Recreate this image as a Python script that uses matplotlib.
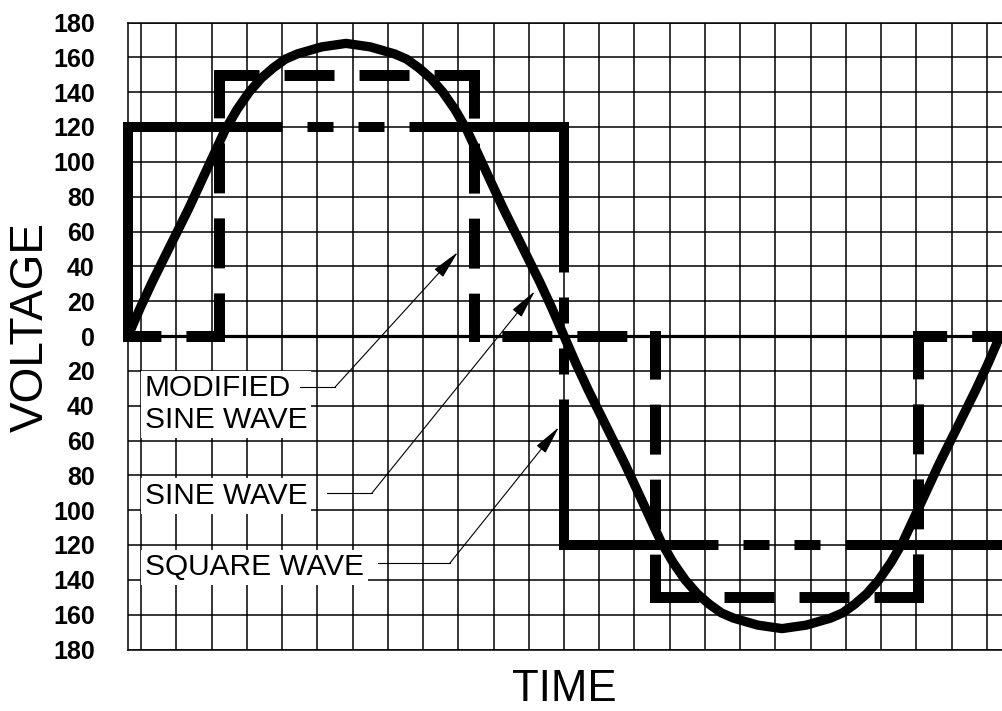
import numpy as np
import matplotlib
matplotlib.use("Agg")
import matplotlib.pyplot as plt

plt.rcParams['font.family'] = ['Liberation Sans', 'DejaVu Sans']
plt.rcParams['lines.scale_dashes'] = False

# time is degrees of one cycle, voltage in volts
sine_t = list(range(0, 361, 5))
sine_v = [0, 16, 31, 45, 59, 73, 88, 103, 118, 130, 140, 148, 154, 159, 162, 164, 166, 167,
          168, 167, 166, 164, 162, 159, 154, 148, 140, 130, 118, 103, 88, 73, 59, 45, 31, 16,
          0, -16, -31, -45, -59, -73, -88, -103, -118, -130, -140, -148, -154, -159, -162,
          -164, -166, -167, -168, -167, -166, -164, -162, -159, -154, -148, -140, -130, -118,
          -103, -88, -73, -59, -45, -31, -16, 0]

square_t = [0, 0, 180, 180, 360]
square_v = [0, 120, 120, -120, -120]

mod_t = [0, 37.5, 37.5, 142.8, 142.8, 217.4, 217.4, 326, 326, 360]
mod_v = [0, 0, 150, 150, 0, 0, -150, -150, 0, 0]

volt_ticks = list(range(-180, 181, 20))
volt_labels = [str(abs(v)) for v in volt_ticks]

# callouts: text, text pos (last line baseline), leader start/end x, leader y, arrow tip
callouts = [
    ("MODIFIED\nSINE WAVE", (7.0, -52.8), (71.0, 85.5), -29.3, (136.2, 48.2)),
    ("SINE WAVE", (7.0, -96.5), (82.2, 100.7), -90.2, (168.0, 25.8)),
    ("SQUARE WAVE", (7.0, -137.3), (103.2, 132.9), -130.4, (177.9, -52.3)),
]

fig = plt.figure(figsize=(10.02, 7.11), dpi=100)
ax = fig.add_axes([128 / 1002, (711 - 649.5) / 711, 874 / 1002, 627 / 711])
ax.set_xlim(0, 360 * 874 / 872)
ax.set_ylim(-180, 180)

# grid paper
step = 14.55
ax.set_xticks(180 + step * np.arange(-12, 13))
ax.set_yticks(volt_ticks)
ax.set_yticklabels(volt_labels, fontsize=18, fontweight='bold')
ax.tick_params(axis='x', length=0, labelbottom=False)
ax.tick_params(axis='y', length=0, pad=24)
ax.grid(True, color='black', lw=1.1)
ax.set_axisbelow(True)
ax.axhline(0, color='black', lw=2.3, zorder=1)
for s in ['left', 'top', 'bottom']:
    ax.spines[s].set_linewidth(1.1)
ax.spines['right'].set_visible(False)


def draw_centered(t, v, pattern, phase, lw, solid_below):
    # every segment gets its own dash pattern, centred like a CAD linetype
    period = sum(pattern)
    pts = ax.transData.transform(np.column_stack([t, v]))
    for i in range(len(t) - 1):
        seg = np.hypot(*(pts[i + 1] - pts[i]))
        if seg < 1e-6:
            continue
        if seg < solid_below:
            ls = '-'
        else:
            off = (phase - seg / 2) % period
            ls = (off * 0.72, [p * 0.72 for p in pattern])
        ax.plot(t[i:i + 2], v[i:i + 2], color='black', lw=lw, linestyle=ls,
                dash_capstyle='projecting', solid_capstyle='projecting',
                clip_on=False, zorder=4)


draw_centered(square_t, square_v, [292, 35, 16, 35, 16, 35], 360.5, 7.2, 380)
draw_centered(mod_t, mod_v, [39, 36], 57, 7.9, 0)
ax.plot(sine_t, sine_v, color='black', lw=6.7, solid_joinstyle='round',
        solid_capstyle='butt', clip_on=False, zorder=5)

for label, pos, (x0, x1), ly, tip in callouts:
    ax.text(pos[0], pos[1], label, fontsize=21.5, ha='left', va='baseline',
            linespacing=1.17, zorder=3,
            bbox=dict(boxstyle='square,pad=0.12', fc='white', ec='none'))
    ax.plot([x0, x1], [ly, ly], color='black', lw=0.8, zorder=4)
    ax.annotate('', xy=tip, xytext=(x1, ly),
                arrowprops=dict(arrowstyle='-|>,head_length=1.8,head_width=0.36',
                                lw=0.8, color='black', shrinkA=0, shrinkB=0),
                zorder=4)

fig.text(43 / 1002, (711 - 327) / 711, 'VOLTAGE', fontsize=33, rotation=90,
         rotation_mode='anchor', ha='center', va='baseline')
fig.text(564 / 1002, (711 - 701) / 711, 'TIME', fontsize=31.5, ha='center', va='baseline')

fig.savefig('out.png', dpi=100)
